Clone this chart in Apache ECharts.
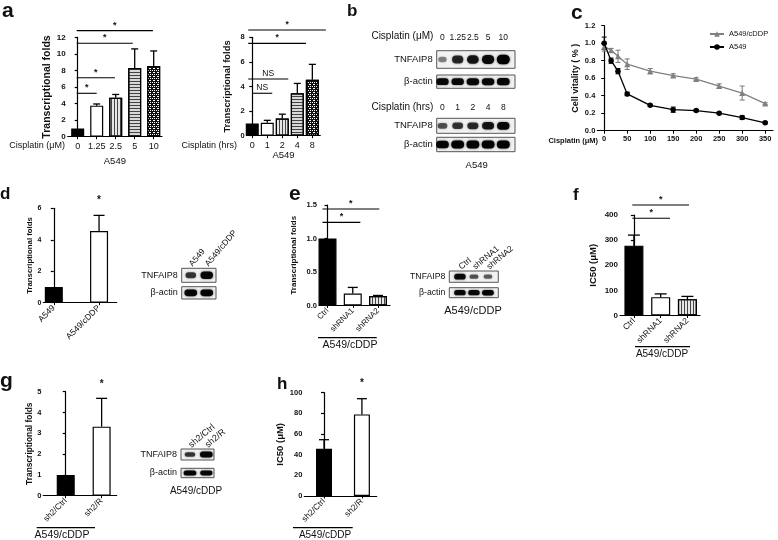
<!DOCTYPE html>
<html><head><meta charset="utf-8">
<script src="https://cdn.jsdelivr.net/npm/echarts@6/dist/echarts.min.js"></script>
<style>html,body{margin:0;padding:0;background:#fff}#c{width:778px;height:540px}</style>
</head><body><div id="c"></div>
<script>
// ---------------- DATA ----------------
// a (left): dose response
const aDoseCats = ['0', '1.25', '2.5', '5', '10'];
const aDoseMean = [1.0, 3.75, 4.7, 8.3, 8.55];
const aDoseUpper = [1.0, 3.95, 5.1, 10.6, 10.35];
const aDoseKinds = ['solid', 'open', 'vstripe', 'hstripe', 'check'];
const aDoseSig = [[-0.05, 3.96, 12.8, '*'], [-0.05, 2.9, 11.28, '*'], [-0.05, 1.96, 7.12, '*'], [-0.05, 1.0, 5.24, '*']];
// a (right): time course
const aTimeCats = ['0', '1', '2', '4', '8'];
const aTimeMean = [1.0, 1.05, 1.4, 3.45, 4.55];
const aTimeUpper = [1.0, 1.25, 1.75, 4.25, 5.8];
const aTimeSig = [[-0.27, 4.9, 8.59, '*'], [-0.27, 3.58, 7.51, '*'], [-0.27, 2.4, 4.61, 'NS'], [0, 1.33, 3.45, 'NS']];
// b: western blots (band intensity 0..1)
const bDoseTNF = [0.22, 0.7, 0.8, 0.88, 1.0];
const bDoseActin = [0.9, 0.9, 0.92, 0.92, 0.95];
const bTimeTNF = [0.45, 0.62, 0.68, 0.82, 0.9];
const bTimeActin = [0.95, 0.97, 0.97, 0.97, 0.98];
// c: cell viability
const cDose = [0, 15, 30, 50, 100, 150, 200, 250, 300, 350];
const cTicks = [0, 50, 100, 150, 200, 250, 300, 350];
const cResist = [0.96, 0.92, 0.85, 0.76, 0.68, 0.63, 0.59, 0.51, 0.43, 0.31];
const cResistErr = [0.05, 0.02, 0.07, 0.06, 0.03, 0.02, 0.015, 0.025, 0.08, 0.01];
const cParent = [1.0, 0.80, 0.68, 0.42, 0.29, 0.24, 0.23, 0.20, 0.15, 0.09];
const cParentErr = [0.07, 0.03, 0.03, 0.02, 0.01, 0.03, 0.01, 0.01, 0.02, 0.01];
// d
const dCats = ['A549', 'A549/cDDP'];
const dMean = [1.0, 4.55];
const dUpper = [1.0, 5.55];
const dKinds = ['solid', 'open'];
const dSig = [[1, 1, 6.15, '*']];
const dTNF = [0.6, 0.92];
const dActin = [0.95, 0.95];
// e
const eCats = ['Ctrl', 'shRNA1', 'shRNA2'];
const eMean = [1.0, 0.18, 0.14];
const eUpper = [1.0, 0.27, 0.15];
const eKinds = ['solid', 'open', 'vstripe'];
const eSig = [[-0.2, 2.05, 1.44, '*'], [-0.2, 1.3, 1.24, '*']];
const eTNF = [0.9, 0.45, 0.4];
const eActin = [0.9, 0.9, 0.95];
// f
const fCats = ['Ctrl', 'shRNA1', 'shRNA2'];
const fMean = [278, 73, 65];
const fUpper = [320, 86, 76];
const fKinds = ['solid', 'open', 'vstripe'];
const fSig = [[-0.06, 2.06, 440, '*'], [-0.06, 1.35, 387, '*']];
// g
const gCats = ['sh2/Ctrl', 'sh2/R'];
const gMean = [1.0, 3.32];
const gUpper = [1.0, 4.68];
const gKinds = ['solid', 'open'];
const gSig = [[1, 1, 5.08, '*']];
const gTNF = [0.6, 0.95];
const gActin = [0.95, 0.9];
// h
const hCats = ['sh2/Ctrl', 'sh2/R'];
const hMean = [45.8, 79];
const hUpper = [54.5, 94.2];
const hKinds = ['solid', 'open'];
const hSig = [[1, 1, 103.3, '*']];

// ---------------- HELPERS ----------------
const FONT = '"Liberation Sans", Arial, Helvetica, sans-serif';
function txt(size, bold) { return { fontFamily: FONT, fontSize: size, fontWeight: bold ? 'bold' : 'normal', color: '#111' }; }
const grids = [], xAxes = [], yAxes = [], series = [];

function barStyle(kind) {
  const base = { borderColor: '#000', borderWidth: 1.2 };
  switch (kind) {
    case 'solid': return Object.assign({}, base, { color: '#000' });
    case 'open': return Object.assign({}, base, { color: '#fff' });
    case 'vstripe': return Object.assign({}, base, { color: '#e6e6e6', decal: { symbol: 'rect', symbolSize: 1, dashArrayX: [1, 2], dashArrayY: [4, 0], color: '#444' } });
    case 'hstripe': return Object.assign({}, base, { color: '#d8d8d8', decal: { symbol: 'rect', symbolSize: 1, dashArrayX: [4, 0], dashArrayY: [1, 1.5], color: '#444' } });
    case 'check': return Object.assign({}, base, { color: '#111', decal: { symbol: 'rect', symbolSize: 1, dashArrayX: [[1, 1], [0, 1, 1]], dashArrayY: [1, 1], color: '#fff' } });
  }
}
function errUp(capW) {
  return function (params, api) {
    const x = api.value(0), m = api.value(1), u = api.value(2);
    if (!(u > m)) return null;
    const p0 = api.coord([x, m]), p1 = api.coord([x, u]);
    return { type: 'group', children: [
      { type: 'line', shape: { x1: p0[0], y1: p0[1], x2: p1[0], y2: p1[1] }, style: { stroke: '#000', lineWidth: 1.3 } },
      { type: 'line', shape: { x1: p1[0] - capW / 2, y1: p1[1], x2: p1[0] + capW / 2, y2: p1[1] }, style: { stroke: '#000', lineWidth: 1.3 } }
    ] };
  };
}
function errBoth(capW, color) {
  return function (params, api) {
    const x = api.value(0), y = api.value(1), e = api.value(2);
    const p0 = api.coord([x, y - e]), p1 = api.coord([x, y + e]);
    const st = { stroke: color, lineWidth: 1 };
    return { type: 'group', children: [
      { type: 'line', shape: { x1: p0[0], y1: p0[1], x2: p1[0], y2: p1[1] }, style: st },
      { type: 'line', shape: { x1: p0[0] - capW / 2, y1: p0[1], x2: p0[0] + capW / 2, y2: p0[1] }, style: st },
      { type: 'line', shape: { x1: p1[0] - capW / 2, y1: p1[1], x2: p1[0] + capW / 2, y2: p1[1] }, style: st }
    ] };
  };
}
function sigRender(list, font) {
  return function (params, api) {
    const d = list[params.dataIndex];
    const p1 = api.coord([d[0], d[2]]), p2 = api.coord([d[1], d[2]]);
    const ch = [];
    if (d[0] !== d[1]) ch.push({ type: 'line', shape: { x1: p1[0], y1: p1[1], x2: p2[0], y2: p2[1] }, style: { stroke: '#000', lineWidth: 1.1 } });
    ch.push({ type: 'text', x: (p1[0] + p2[0]) / 2, y: p1[1] - 1, style: { text: d[3], fontSize: font, fontWeight: d[3] === '*' ? 'bold' : 'normal', fontFamily: FONT, fill: '#111', align: 'center', verticalAlign: 'bottom' } });
    return { type: 'group', children: ch };
  };
}
function bandRender(laneW) {
  return function (params, api) {
    const c = api.coord([api.value(0), 0]);
    const rowH = api.size([0, 1])[1];
    const v = api.value(2);
    const w = laneW * (0.55 + 0.45 * v), h = rowH * (0.25 + 0.3 * v);
    return { type: 'rect', shape: { x: c[0] - w / 2, y: c[1] - h / 2, width: w, height: h, r: h / 2 },
      style: { fill: 'rgba(0,0,0,' + (0.25 + 0.75 * v).toFixed(2) + ')', shadowBlur: 2.5, shadowColor: 'rgba(0,0,0,' + (0.2 + 0.5 * v).toFixed(2) + ')' } };
  };
}

function barPanel(c) {
  const gi = grids.length;
  grids.push({ left: c.l, top: c.t, width: c.w, height: c.h, outerBoundsMode: 'none' });
  const idx = c.cats.map((_, i) => i);
  xAxes.push({ gridIndex: gi, type: 'value', min: c.xMin, max: c.xMax,
    name: c.xName || '', nameLocation: 'middle', nameGap: c.xNameGap || 20, nameTextStyle: txt(c.xNameSize || 9, false),
    axisLine: { show: true, onZero: false, lineStyle: { color: '#000', width: 1.2 } },
    axisTick: { show: true, customValues: idx, length: 2.5, lineStyle: { color: '#000', width: 1 } },
    axisLabel: Object.assign({ show: true, customValues: idx, formatter: v => c.cats[Math.round(v)], rotate: c.xRotate || 0, margin: c.xMargin || 4, hideOverlap: false }, txt(c.xLabelSize, false)),
    splitLine: { show: false } });
  yAxes.push({ gridIndex: gi, type: 'value', min: 0, max: c.yMax, interval: c.yInt,
    name: c.yName, nameLocation: 'middle', nameGap: c.yNameGap, nameTextStyle: txt(c.yNameSize, true),
    axisLine: { show: true, lineStyle: { color: '#000', width: 1.2 } },
    axisTick: { show: true, length: 3, lineStyle: { color: '#000', width: 1.2 } },
    axisLabel: Object.assign({ margin: 2, formatter: c.yFmt }, txt(c.yLabelSize, true)), splitLine: { show: false } });
  series.push({ type: 'bar', xAxisIndex: gi, yAxisIndex: gi, barWidth: c.barW, z: 2,
    data: c.mean.map((v, i) => ({ value: [i, v], itemStyle: barStyle(c.kinds[i]) })) });
  series.push({ type: 'custom', xAxisIndex: gi, yAxisIndex: gi, z: 3, clip: false,
    data: c.mean.map((v, i) => [i, v, c.upper[i]]), encode: { x: 0, y: [1, 2] }, renderItem: errUp(c.capW) });
  if (c.sig) series.push({ type: 'custom', xAxisIndex: gi, yAxisIndex: gi, z: 4, clip: false,
    data: c.sig.map(d => [d[0], d[1], d[2]]), encode: { x: [0, 1], y: 2 }, renderItem: sigRender(c.sig, c.sigFont) });
}

function blotPanel(c) {
  c.rows.forEach((r, k) => {
    const gi = grids.length;
    grids.push({ left: c.l, top: r.t, width: c.w, height: r.h, show: true, backgroundColor: '#f2f2f2', borderColor: '#555', borderWidth: 1, outerBoundsMode: 'none' });
    const idx = c.lanes.map((_, i) => i);
    xAxes.push({ gridIndex: gi, type: 'value', min: c.xMin, max: c.xMax, position: 'top',
      axisLine: { show: false }, axisTick: { show: false }, splitLine: { show: false },
      axisLabel: k === 0 ? Object.assign({ show: true, customValues: idx, formatter: v => c.lanes[Math.round(v)], rotate: c.laneRotate || 0, margin: c.laneMargin, hideOverlap: false }, txt(c.laneFont, false)) : { show: false } });
    yAxes.push({ gridIndex: gi, type: 'category', data: [r.name], axisLine: { show: false }, axisTick: { show: false }, splitLine: { show: false },
      axisLabel: Object.assign({ margin: 4 }, txt(c.rowFont, false)) });
    series.push({ type: 'custom', xAxisIndex: gi, yAxisIndex: gi, clip: true,
      data: r.vals.map((v, i) => [i, 0, v]), encode: { x: 0, y: 1 }, renderItem: bandRender(c.laneW) });
  });
}

// ---------------- PANELS ----------------
barPanel({ l: 67.7, t: 37.3, w: 94.3, h: 99.4, xMin: -0.526, xMax: 4.437, cats: aDoseCats, mean: aDoseMean, upper: aDoseUpper, kinds: aDoseKinds,
  yMax: 12, yInt: 2, yName: 'Transcriptional folds', yNameSize: 10.5, yNameGap: 13, yLabelSize: 8, xLabelSize: 9, xMargin: 5,
  xName: 'A549', xNameGap: 20, xNameSize: 9.5, barW: 13, capW: 7, sig: aDoseSig, sigFont: 9 });
barPanel({ l: 246.7, t: 37.3, w: 73.6, h: 98.4, xMin: -0.37, xMax: 4.53, cats: aTimeCats, mean: aTimeMean, upper: aTimeUpper, kinds: aDoseKinds,
  yMax: 8, yInt: 2, yName: 'Transcriptional folds', yNameSize: 9.4, yNameGap: 15, yLabelSize: 7.5, xLabelSize: 9, xMargin: 5,
  xName: 'A549', xNameGap: 15, xNameSize: 9.5, barW: 13, capW: 7, sig: aTimeSig, sigFont: 8.5 });
barPanel({ l: 43.3, t: 208.3, w: 73.4, h: 94.4, xMin: -0.232, xMax: 1.39, cats: dCats, mean: dMean, upper: dUpper, kinds: dKinds,
  yMax: 6, yInt: 2, yName: 'Transcriptional folds', yNameSize: 7.8, yNameGap: 8, yLabelSize: 7, xLabelSize: 8.5, xRotate: 45, xMargin: 4,
  barW: 18, capW: 11, sig: dSig, sigFont: 10 });
barPanel({ l: 319, t: 205, w: 71, h: 100.5, xMin: -0.337, xMax: 2.475, cats: eCats, mean: eMean, upper: eUpper, kinds: eKinds,
  yMax: 1.5, yInt: 0.5, yFmt: v => v.toFixed(1), yName: 'Transcriptional folds', yNameSize: 8, yNameGap: 21, yLabelSize: 7.5, xLabelSize: 8, xRotate: 45, xMargin: 4,
  barW: 18, capW: 10, sig: eSig, sigFont: 9 });
barPanel({ l: 620, t: 215, w: 80, h: 100.5, xMin: -0.52, xMax: 2.47, cats: fCats, mean: fMean, upper: fUpper, kinds: fKinds,
  yMax: 400, yInt: 100, yName: 'IC50 (μM)', yNameSize: 9.5, yNameGap: 22, yLabelSize: 8, xLabelSize: 8.5, xRotate: 45, xMargin: 4,
  barW: 19, capW: 12, sig: fSig, sigFont: 9 });
barPanel({ l: 43.3, t: 391.7, w: 73.4, h: 104, xMin: -0.625, xMax: 1.42, cats: gCats, mean: gMean, upper: gUpper, kinds: gKinds,
  yMax: 5, yInt: 1, yName: 'Transcriptional folds', yNameSize: 8.4, yNameGap: 10, yLabelSize: 7.5, xLabelSize: 8.5, xRotate: 45, xMargin: 4,
  barW: 18, capW: 11, sig: gSig, sigFont: 10 });
barPanel({ l: 304.3, t: 392.7, w: 72.4, h: 103.3, xMin: -0.52, xMax: 1.39, cats: hCats, mean: hMean, upper: hUpper, kinds: hKinds,
  yMax: 100, yInt: 20, yName: 'IC50 (μM)', yNameSize: 9.5, yNameGap: 19, yLabelSize: 7.5, xLabelSize: 8.5, xRotate: 45, xMargin: 4,
  barW: 16, capW: 10, sig: hSig, sigFont: 10 });

// c: line chart
(function () {
  const gi = grids.length;
  grids.push({ left: 597.3, top: 25.7, width: 175.7, height: 105, outerBoundsMode: 'none' });
  xAxes.push({ gridIndex: gi, type: 'value', min: -15, max: 367,
    axisLine: { show: true, onZero: false, lineStyle: { color: '#000', width: 1.2 } },
    axisTick: { show: true, customValues: cTicks, length: 3, lineStyle: { color: '#000' } },
    axisLabel: Object.assign({ customValues: cTicks, margin: 4, hideOverlap: false }, txt(7.5, true)), splitLine: { show: false } });
  yAxes.push({ gridIndex: gi, type: 'value', min: 0, max: 1.2, interval: 0.2,
    name: 'Cell vitality ( % )', nameLocation: 'middle', nameGap: 17, nameTextStyle: txt(9, true),
    axisLine: { show: true, lineStyle: { color: '#000', width: 1.2 } }, axisTick: { show: true, length: 3, lineStyle: { color: '#000' } },
    axisLabel: Object.assign({ margin: 2, formatter: v => v.toFixed(1) }, txt(7.5, true)), splitLine: { show: false } });
  series.push({ name: 'A549/cDDP', type: 'line', xAxisIndex: gi, yAxisIndex: gi, data: cDose.map((x, i) => [x, cResist[i]]),
    symbol: 'triangle', symbolSize: 6, color: '#808080', lineStyle: { color: '#808080', width: 1.3 }, itemStyle: { color: '#808080' }, z: 3 });
  series.push({ name: 'A549', type: 'line', xAxisIndex: gi, yAxisIndex: gi, data: cDose.map((x, i) => [x, cParent[i]]),
    symbol: 'circle', symbolSize: 5.5, color: '#000', lineStyle: { color: '#000', width: 1.3 }, itemStyle: { color: '#000' }, z: 4 });
  series.push({ name: 'errR', type: 'custom', xAxisIndex: gi, yAxisIndex: gi, data: cDose.map((x, i) => [x, cResist[i], cResistErr[i]]),
    encode: { x: 0, y: 1 }, renderItem: errBoth(5, '#777'), z: 2 });
  series.push({ name: 'errP', type: 'custom', xAxisIndex: gi, yAxisIndex: gi, data: cDose.map((x, i) => [x, cParent[i], cParentErr[i]]),
    encode: { x: 0, y: 1 }, renderItem: errBoth(5, '#000'), z: 2 });
})();

// blots
blotPanel({ l: 436.7, w: 78.3, xMin: -0.38, xMax: 4.77, lanes: aDoseCats, laneFont: 8.5, laneMargin: 9, laneW: 13, rowFont: 9.5,
  rows: [{ name: 'TNFAIP8', t: 50.7, h: 17.6, vals: bDoseTNF }, { name: 'β-actin', t: 75, h: 13.3, vals: bDoseActin }] });
blotPanel({ l: 436.7, w: 78.3, xMin: -0.38, xMax: 4.77, lanes: aTimeCats, laneFont: 8.5, laneMargin: 6, laneW: 13, rowFont: 9.5,
  rows: [{ name: 'TNFAIP8', t: 118.3, h: 15, vals: bTimeTNF }, { name: 'β-actin', t: 137.3, h: 14.4, vals: bTimeActin }] });
blotPanel({ l: 181.7, w: 34.3, xMin: -0.57, xMax: 1.58, lanes: dCats, laneFont: 8.5, laneMargin: 3, laneRotate: -50, laneW: 13, rowFont: 9,
  rows: [{ name: 'TNFAIP8', t: 268.3, h: 14, vals: dTNF }, { name: 'β-actin', t: 286.7, h: 12.3, vals: dActin }] });
blotPanel({ l: 449.3, w: 49, xMin: -0.76, xMax: 2.74, lanes: eCats, laneFont: 8.5, laneMargin: 3, laneRotate: -40, laneW: 12, rowFont: 8.7,
  rows: [{ name: 'TNFAIP8', t: 271, h: 11.3, vals: eTNF }, { name: 'β-actin', t: 287.7, h: 10, vals: eActin }] });
blotPanel({ l: 181, w: 33, xMin: -0.55, xMax: 1.47, lanes: gCats, laneFont: 9, laneMargin: 3, laneRotate: -40, laneW: 13, rowFont: 9,
  rows: [{ name: 'TNFAIP8', t: 449, h: 11, vals: gTNF }, { name: 'β-actin', t: 468.3, h: 9.4, vals: gActin }] });

// ---------------- TEXT / DECOR ----------------
function gtext(x, y, s, size, bold, align) {
  return { type: 'text', x: x, y: y, style: { text: s, fontFamily: FONT, fontSize: size, fontWeight: bold ? 'bold' : 'normal', fill: '#111', align: align || 'left', verticalAlign: 'middle' } };
}
function gline(x1, x2, y) { return { type: 'line', shape: { x1: x1, y1: y, x2: x2, y2: y }, style: { stroke: '#000', lineWidth: 1.2 } }; }
const graphic = [
  gtext(2, 11.6, 'a', 21, true), gtext(347, 11.3, 'b', 17, true), gtext(571, 13.3, 'c', 21, true),
  gtext(0, 194.6, 'd', 17, true), gtext(289, 194.3, 'e', 21, true), gtext(573, 195.6, 'f', 17, true),
  gtext(0, 381, 'g', 21, true), gtext(277, 384.6, 'h', 17, true),
  gtext(65, 146, 'Cisplatin (μM)', 9, false, 'right'),
  gtext(237, 145.7, 'Cisplatin (hrs)', 9, false, 'right'),
  gtext(433.3, 36.7, 'Cisplatin (μM)', 10, false, 'right'),
  gtext(433.3, 107.7, 'Cisplatin (hrs)', 10, false, 'right'),
  gtext(476.7, 165.7, 'A549', 9.5, false, 'center'),
  gtext(598, 141, 'Cisplatin (μM)', 7.5, true, 'right'),
  gtext(473, 311, 'A549/cDDP', 11, false, 'center'),
  gtext(196, 491.7, 'A549/cDDP', 10, false, 'center'),
  gline(318, 376.7, 337.7), gtext(350, 344.8, 'A549/cDDP', 10.5, false, 'center'),
  gline(635, 690, 346.7), gtext(662, 354, 'A549/cDDP', 10, false, 'center'),
  gline(36.7, 95, 527.7), gtext(62, 535, 'A549/cDDP', 10.5, false, 'center'),
  gline(293, 352.7, 527.7), gtext(325, 535, 'A549/cDDP', 10, false, 'center')
];

const chart = echarts.init(document.getElementById('c'), null, { renderer: 'canvas' });
chart.setOption({
  animation: false,
  backgroundColor: '#fff',
  textStyle: { fontFamily: FONT },
  grid: grids, xAxis: xAxes, yAxis: yAxes, series: series,
  legend: { data: ['A549/cDDP', 'A549'], left: 704, top: 25, orient: 'vertical', itemWidth: 14, itemHeight: 7, itemGap: 5,
    textStyle: txt(7.5, false), selectedMode: false },
  graphic: graphic
});
</script>
</body></html>
